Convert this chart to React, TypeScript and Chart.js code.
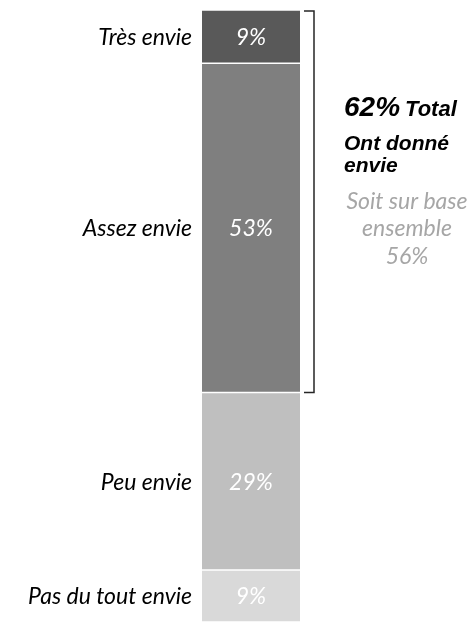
import React, { useEffect, useRef } from "react";
import { Chart, registerables } from "chart.js";
Chart.register(...registerables);

const categories = ["Pas du tout envie", "Peu envie", "Assez envie", "Très envie"];
const values = [8.5, 29.0, 53.8, 8.7];
const valueLabels = ["9%", "29%", "53%", "9%"];
const colors = ["#d9d9d9", "#bfbfbf", "#7f7f7f", "#595959"];
const bracketSeries = [2, 3];
const totalLabel = "62%";
const totalLines = ["Total", "Ont donné", "envie"];
const baseLines = ["Soit sur base", "ensemble", "56%"];

const labelFont = "Lato, 'Open Sans', sans-serif";
const boldFont = "'Liberation Sans', Arial, sans-serif";

const overlay = {
  id: "overlay",
  afterDatasetsDraw(chart: any) {
    const ctx = chart.ctx;
    const area = chart.chartArea;
    const y = chart.scales.y;
    ctx.save();
    chart.data.datasets.forEach((ds: any, i: number) => {
      const bar = chart.getDatasetMeta(i).data[0] as any;
      const cy = (bar.y + bar.base) / 2 + 1;
      ctx.textBaseline = "middle";
      ctx.textAlign = "center";
      ctx.fillStyle = "#ffffff";
      ctx.font = `italic 23px ${labelFont}`;
      ctx.fillText(valueLabels[i], bar.x, cy);
      ctx.textAlign = "right";
      ctx.fillStyle = "#000000";
      ctx.font = `italic 23px ${labelFont}`;
      ctx.fillText(categories[i], area.left - 10, cy);
    });
    // bracket
    const topBar = chart.getDatasetMeta(bracketSeries[1]).data[0] as any;
    const lowBar = chart.getDatasetMeta(bracketSeries[0]).data[0] as any;
    const yt = topBar.y + 1;
    const yb = lowBar.base;
    const xr = area.right + 14;
    ctx.strokeStyle = "#262626";
    ctx.lineWidth = 1.5;
    ctx.beginPath();
    ctx.moveTo(area.right + 4, yt);
    ctx.lineTo(xr, yt);
    ctx.lineTo(xr, yb);
    ctx.lineTo(area.right + 4, yb);
    ctx.stroke();
    // right texts
    const tx = area.right + 44;
    ctx.textAlign = "left";
    ctx.textBaseline = "alphabetic";
    ctx.fillStyle = "#000000";
    ctx.font = `italic bold 28px ${boldFont}`;
    ctx.fillText(totalLabel, tx, 116);
    const w = ctx.measureText(totalLabel).width + 5;
    ctx.font = `italic bold 22px ${boldFont}`;
    ctx.fillText(totalLines[0], tx + w, 116);
    ctx.font = `italic bold 21px ${boldFont}`;
    ctx.fillText(totalLines[1], tx, 150);
    ctx.fillText(totalLines[2], tx, 172);
    ctx.fillStyle = "#a6a6a6";
    ctx.textAlign = "center";
    ctx.font = `italic 23px ${labelFont}`;
    const cx = area.right + 107;
    ctx.fillText(baseLines[0], cx, 209);
    ctx.fillText(baseLines[1], cx, 236);
    ctx.fillText(baseLines[2], cx, 264);
    ctx.restore();
  },
};

export default function App() {
  const ref = useRef<HTMLCanvasElement>(null);
  useEffect(() => {
    const chart = new Chart(ref.current!, {
      type: "bar",
      data: {
        labels: [""],
        datasets: values.map((v, i) => ({
          label: categories[i],
          data: [v],
          backgroundColor: colors[i],
          borderColor: "#ffffff",
          borderWidth: { top: 1, bottom: 1, left: 0, right: 0 },
          borderSkipped: false,
          barPercentage: 1,
          categoryPercentage: 1,
        })),
      },
      options: {
        animation: false,
        responsive: true,
        maintainAspectRatio: false,
        layout: { padding: { left: 202, right: 172, top: 10, bottom: 0 } },
        plugins: { legend: { display: false }, tooltip: { enabled: false } },
        scales: {
          x: { stacked: true, display: false },
          y: { stacked: true, display: false, min: 0, max: 100 },
        },
      },
      plugins: [overlay],
    });
    return () => chart.destroy();
  }, []);
  return (
    <div style={{ position: "fixed", left: 0, top: 0, width: 472, height: 622, background: "#fff" }}>
      <canvas ref={ref} />
    </div>
  );
}
